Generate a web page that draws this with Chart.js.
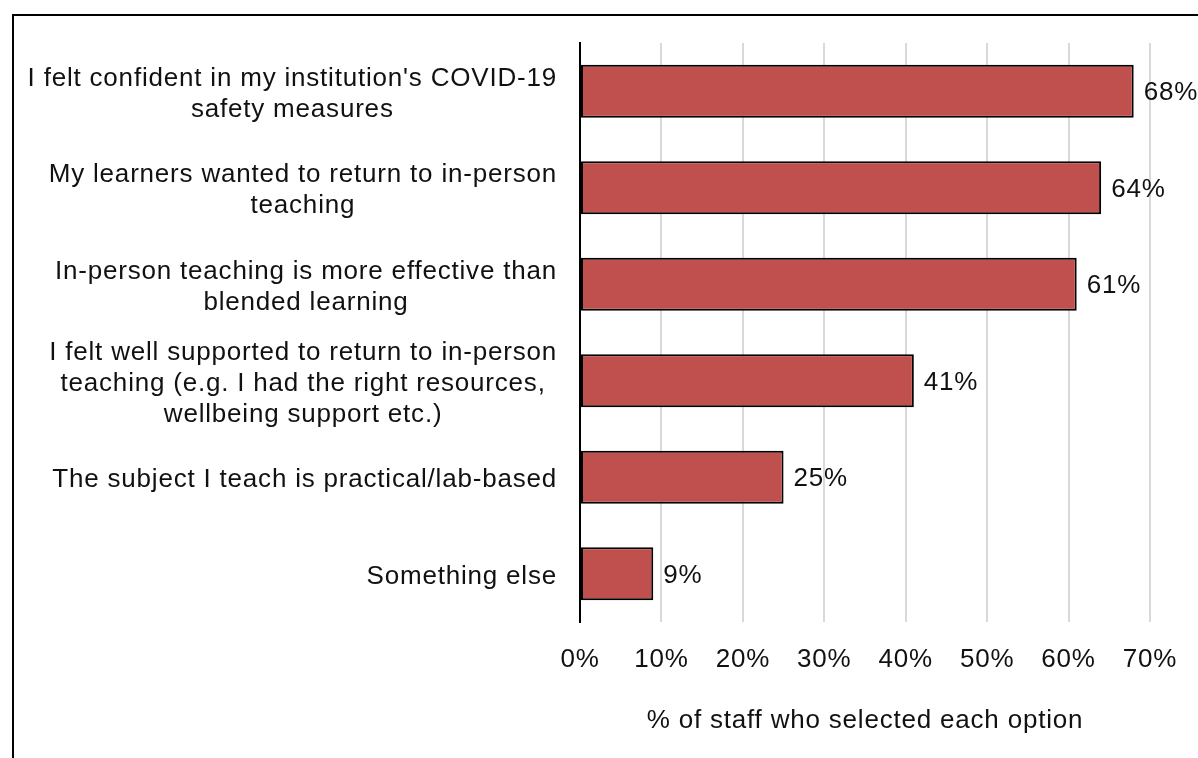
<!DOCTYPE html>
<html>
<head>
<meta charset="utf-8">
<script src="https://cdn.jsdelivr.net/npm/chart.js@4/dist/chart.umd.min.js"></script>
<style>
  html, body { margin: 0; padding: 0; background: #fff; overflow: hidden; }
  #frame {
    position: absolute; left: 12px; top: 14px;
    width: 1400px; height: 1000px;
    border-left: 2px solid #000; border-top: 2px solid #000;
  }
  #wrap { position: absolute; left: 0; top: 0; width: 1198px; height: 758px; }
</style>
</head>
<body>
<div id="frame"></div>
<div id="wrap"><canvas id="chart" width="1198" height="758"></canvas></div>
<script>
// ── Data ──
const reasons = [
  ["I felt confident in my institution's COVID-19", "safety measures"],
  ["My learners wanted to return to in-person", "teaching"],
  ["In-person teaching is more effective than", "blended learning"],
  ["I felt well supported to return to in-person", "teaching (e.g. I had the right resources,", "wellbeing support etc.)"],
  ["The subject I teach is practical/lab-based"],
  ["Something else"]
];
const staffPct = [68, 64, 61, 41, 25, 9];
const axisTitle = '% of staff who selected each option';

const FONT = '"Liberation Sans", Arial, sans-serif';
const FSIZE = 26;
const TEXT = '#111';

// slightly looser tracking for all chart text
const tracking = {
  id: 'tracking',
  beforeDraw(chart) { chart.ctx.letterSpacing = '0.8px'; }
};

// category labels: block right-aligned, lines centred inside the block
const reasonLabels = {
  id: 'reasonLabels',
  afterDraw(chart) {
    const { ctx, scales: { y } } = chart;
    const lineH = 31;
    const rightEdge = 557;
    ctx.save();
    ctx.letterSpacing = '0.8px';
    ctx.font = FSIZE + 'px ' + FONT;
    ctx.fillStyle = TEXT;
    ctx.textAlign = 'center';
    ctx.textBaseline = 'middle';
    reasons.forEach((lines, i) => {
      const cy = y.getPixelForValue(i) + 3;
      const w = Math.max(...lines.map(l => ctx.measureText(l).width));
      const cx = rightEdge - w / 2;
      const y0 = cy - (lines.length - 1) * lineH / 2;
      lines.forEach((l, k) => ctx.fillText(l, cx, y0 + k * lineH));
    });
    ctx.restore();
  }
};

// value labels at the end of each bar
const valueLabels = {
  id: 'valueLabels',
  afterDatasetsDraw(chart) {
    const { ctx } = chart;
    const meta = chart.getDatasetMeta(0);
    ctx.save();
    ctx.letterSpacing = '0.8px';
    ctx.font = FSIZE + 'px ' + FONT;
    ctx.fillStyle = TEXT;
    ctx.textAlign = 'left';
    ctx.textBaseline = 'middle';
    meta.data.forEach((bar, i) => {
      ctx.fillText(staffPct[i] + '%', bar.x + 10, bar.y + 2);
    });
    ctx.restore();
  }
};

new Chart(document.getElementById('chart'), {
  type: 'bar',
  data: {
    labels: reasons.map(r => r.join(' ')),
    datasets: [{
      data: staffPct,
      backgroundColor: '#C0504D',
      borderColor: '#000',
      borderWidth: 2,
      borderSkipped: false,
      categoryPercentage: 1,
      barPercentage: 0.55
    }]
  },
  options: {
    indexAxis: 'y',
    responsive: false,
    animation: false,
    layout: { padding: { top: 43, right: 47, left: 0, bottom: 0 } },
    plugins: {
      legend: { display: false },
      tooltip: { enabled: false }
    },
    scales: {
      x: {
        min: 0,
        max: 70,
        ticks: {
          stepSize: 10,
          padding: 22,
          color: TEXT,
          font: { family: FONT, size: FSIZE },
          callback: v => v + '%'
        },
        grid: { color: '#d9d9d9', lineWidth: 2, drawTicks: false },
        border: { display: false },
        title: {
          display: true,
          text: axisTitle,
          color: TEXT,
          font: { family: FONT, size: FSIZE },
          padding: { top: 0, bottom: 22 }
        },
        afterFit: s => { s.height = 136; }
      },
      y: {
        ticks: { display: false },
        grid: { display: false },
        border: { color: '#000', width: 2 },
        afterFit: s => { s.width = 580; }
      }
    }
  },
  plugins: [tracking, reasonLabels, valueLabels]
});
</script>
</body>
</html>
